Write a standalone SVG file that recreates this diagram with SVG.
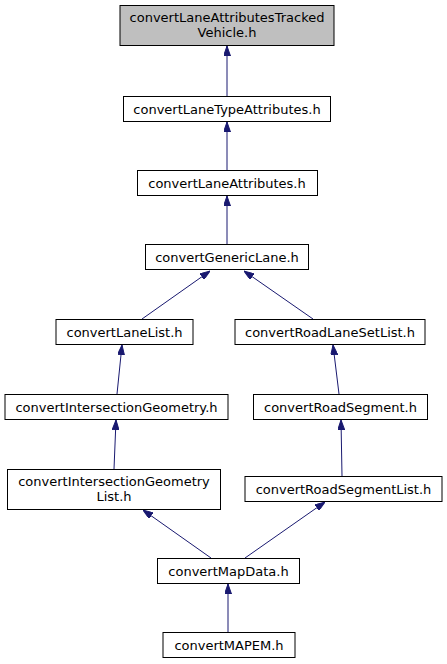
<svg xmlns="http://www.w3.org/2000/svg" width="447" height="664" viewBox="0 0 447 664">
<style>
.n rect{fill:#ffffff;stroke:#000000;stroke-width:1}
.n.root rect{fill:#bfbfbf}
.n text{font-family:"DejaVu Sans",sans-serif;font-size:13px;fill:#000000;text-anchor:middle}
.e line{stroke:#191970;stroke-width:1;marker-end:url(#ah)}
</style>
<defs>
<marker id="ah" viewBox="0 0 10 7" refX="10" refY="3.5" markerWidth="10" markerHeight="7" markerUnits="userSpaceOnUse" orient="auto">
<path d="M0,0 L10,3.5 L0,7 z" fill="#191970" stroke="#191970"/>
</marker>
</defs>
<rect width="447" height="664" fill="#ffffff"/>
<g id="edges" class="e">
<line x1="227" y1="96" x2="227" y2="46"/>
<line x1="227" y1="170" x2="227" y2="122"/>
<line x1="227" y1="244" x2="227" y2="196"/>
<line x1="142" y1="319" x2="210" y2="271"/>
<line x1="313" y1="319" x2="244" y2="271"/>
<line x1="117" y1="394" x2="122" y2="345"/>
<line x1="339" y1="394" x2="333" y2="345"/>
<line x1="114" y1="469" x2="116" y2="420"/>
<line x1="342" y1="476" x2="341" y2="420"/>
<line x1="211" y1="558" x2="143" y2="510"/>
<line x1="245" y1="558" x2="325" y2="502"/>
<line x1="228" y1="632" x2="228" y2="584"/>
</g>
<g id="n1" class="n root"><rect x="120" y="5.5" width="214" height="40"/><text x="227" y="22">convertLaneAttributesTracked</text><text x="227" y="37">Vehicle.h</text></g>
<g id="n2" class="n"><rect x="123.5" y="96.5" width="207" height="25"/><text x="227" y="113.5">convertLaneTypeAttributes.h</text></g>
<g id="n3" class="n"><rect x="137.5" y="170.5" width="180" height="25"/><text x="227" y="187.5">convertLaneAttributes.h</text></g>
<g id="n4" class="n"><rect x="145.5" y="244.5" width="163" height="25"/><text x="227" y="261.5">convertGenericLane.h</text></g>
<g id="n5" class="n"><rect x="56" y="319.5" width="137" height="25"/><text x="124.5" y="336.5">convertLaneList.h</text></g>
<g id="n6" class="n"><rect x="235" y="319.5" width="190" height="25"/><text x="330" y="336.5">convertRoadLaneSetList.h</text></g>
<g id="n7" class="n"><rect x="5" y="394.5" width="223" height="25"/><text x="116.5" y="411.5">convertIntersectionGeometry.h</text></g>
<g id="n8" class="n"><rect x="253.5" y="394.5" width="174" height="25"/><text x="340.5" y="411.5">convertRoadSegment.h</text></g>
<g id="n9" class="n"><rect x="7.5" y="469.5" width="213" height="40"/><text x="114" y="486">convertIntersectionGeometry</text><text x="114" y="501">List.h</text></g>
<g id="n10" class="n"><rect x="245" y="476.5" width="197" height="25"/><text x="343.5" y="493.5">convertRoadSegmentList.h</text></g>
<g id="n11" class="n"><rect x="157.5" y="558.5" width="142" height="25"/><text x="228.5" y="575.5">convertMapData.h</text></g>
<g id="n12" class="n"><rect x="163" y="632.5" width="132" height="25"/><text x="229" y="649.5">convertMAPEM.h</text></g>
</svg>
